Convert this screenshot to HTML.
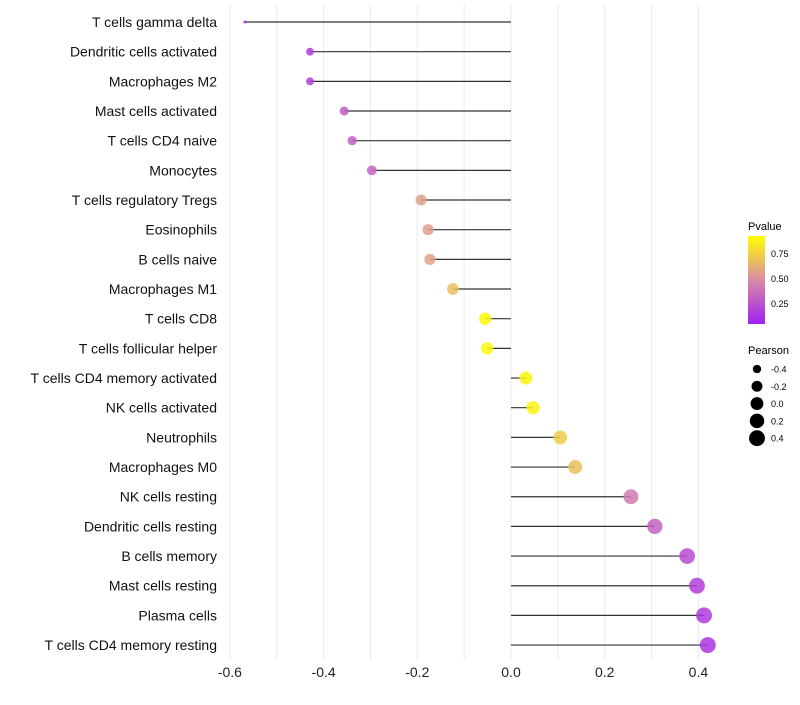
<!DOCTYPE html>
<html><head><meta charset="utf-8"><style>
body{margin:0;background:#fff;font-family:"Liberation Sans",sans-serif}
</style></head><body>
<svg id="chart" width="800" height="700" xmlns="http://www.w3.org/2000/svg" font-family="Liberation Sans, sans-serif">
<g id="grid"></g><g id="marks"></g><g id="ylab"></g><g id="xlab"></g>
<g id="legend">
  <text x="748" y="230" font-size="11">Pvalue</text>
  <defs><linearGradient id="pg" x1="0" y1="1" x2="0" y2="0">
    <stop offset="0" stop-color="#A020F0"/><stop offset="0.5" stop-color="#D98BA6"/><stop offset="1" stop-color="#FFFF00"/>
  </linearGradient></defs>
  <rect x="748" y="236" width="17" height="88" fill="url(#pg)"/>
  <text x="771" y="257" font-size="9">0.75</text>
  <text x="771" y="282" font-size="9">0.50</text>
  <text x="771" y="307" font-size="9">0.25</text>
  <text x="748" y="354" font-size="11">Pearson</text>
  <g id="sizeleg"></g>
</g>
</svg>
<script>
const cells=["T cells gamma delta","Dendritic cells activated","Macrophages M2","Mast cells activated","T cells CD4 naive","Monocytes","T cells regulatory  Tregs ","Eosinophils","B cells naive","Macrophages M1","T cells CD8","T cells follicular helper","T cells CD4 memory activated","NK cells activated","Neutrophils","Macrophages M0","NK cells resting","Dendritic cells resting","B cells memory","Mast cells resting","Plasma cells","T cells CD4 memory resting"];
const pearson=[-0.568,-0.429,-0.429,-0.356,-0.339,-0.297,-0.192,-0.177,-0.173,-0.124,-0.055,-0.051,0.032,0.047,0.105,0.137,0.256,0.307,0.376,0.397,0.412,0.420];
const pvalue=[0.05,0.15,0.15,0.28,0.3,0.32,0.58,0.58,0.6,0.72,0.97,0.97,0.95,0.95,0.78,0.72,0.42,0.3,0.2,0.15,0.12,0.1];
const xTicks=[-0.6,-0.4,-0.2,0,0.2,0.4];
const sizeLegend=[-0.4,-0.2,0,0.2,0.4];
const NS="http://www.w3.org/2000/svg";
const X=v=>511+v*468.5;
const Y=i=>22+i*29.67;
const vmin=-0.568,vmax=0.42;
const R=v=>1.5+6.5*Math.sqrt(Math.max(0,Math.min(1,(v-vmin)/(vmax-vmin))));
function lerp(a,b,t){return a.map((c,i)=>Math.round(c+(b[i]-c)*t));}
function col(p){const A=[160,32,240],M=[217,139,166],B=[255,255,0];
 const c=p<0.5?lerp(A,M,p/0.5):lerp(M,B,(p-0.5)/0.5);return `rgb(${c})`;}
function el(t,a,parent){const e=document.createElementNS(NS,t);for(const k in a)e.setAttribute(k,a[k]);document.getElementById(parent).appendChild(e);return e;}
for(let v=-0.6;v<=0.451;v+=0.1){const g=el('line',{x1:X(v),x2:X(v),y1:5,y2:660,stroke:'#ebebeb','stroke-width':1},'grid');

}
xTicks.forEach(t=>{const e=el('text',{x:X(t),y:677,'font-size':14,'text-anchor':'middle',fill:'#222'},'xlab');e.textContent=t===0?'0.0':t.toFixed(1);

});
cells.forEach((c,i)=>{
 const t=el('text',{x:217,y:Y(i)+5,'font-size':14,'text-anchor':'end',fill:'#111','xml:space':'preserve'},'ylab');t.textContent=c;
 
 
 const l=el('line',{x1:X(0),x2:X(pearson[i]),y1:Y(i),y2:Y(i),stroke:'#333','stroke-width':1.2},'marks');
 
 
 const p=el('circle',{cx:X(pearson[i]),cy:Y(i),r:R(pearson[i]),fill:col(pvalue[i]),'fill-opacity':0.85},'marks');
 
 
});
sizeLegend.forEach((v,i)=>{const y=369+i*17.3;
 const c=el('circle',{cx:757,cy:y,r:R(v),fill:'#000'},'sizeleg');
 
 
 const t=el('text',{x:771,y:y+3.5,'font-size':9},'sizeleg');t.textContent=v===0?'0.0':v.toFixed(1);
 
 });
</script>
</body></html>
